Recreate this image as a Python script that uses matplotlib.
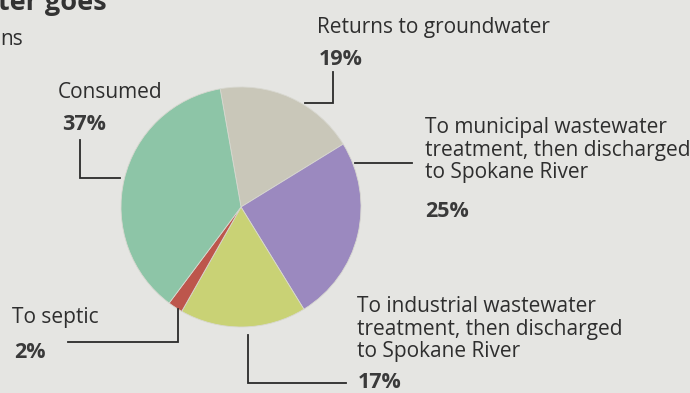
import matplotlib

matplotlib.use("Agg")

import matplotlib.pyplot as plt

W, H = 690, 393

# Data (clockwise from the top)
labels = ["Returns to groundwater",
          "To municipal wastewater\ntreatment, then discharged\nto Spokane River",
          "To industrial wastewater\ntreatment, then discharged\nto Spokane River",
          "To septic",
          "Consumed"]
shares = [19, 25, 17, 2, 37]
pct_labels = ["19%", "25%", "17%", "2%", "37%"]
slice_colors = ["#c9c7b9", "#9b89bf", "#c9d275", "#bd564c", "#8dc5a7"]

BG = "#e5e5e2"
TEXT = "#2e2e2e"
BOLD = "#3a3a3a"
LINE = "#2a2a2a"
FONT = "Open Sans"


def Y(y):
    return H - y


def label(ax, x, y, s, bold=False, size=15):
    # y is the baseline of the last line, in pixels from the top
    ax.text(x, Y(y), s, ha="left", va="baseline", fontsize=size, family=FONT,
            color=BOLD if bold else TEXT, fontweight="bold" if bold else "normal",
            linespacing=1.08)


def leader(ax, pts):
    xs = [p[0] for p in pts]
    ys = [Y(p[1]) for p in pts]
    ax.plot(xs, ys, color=LINE, lw=1.3, solid_joinstyle="miter")


fig = plt.figure(figsize=(W / 100, H / 100), dpi=100, facecolor=BG)
ax = fig.add_axes([0, 0, 1, 1])
ax.set_facecolor(BG)

ax.pie(shares, colors=slice_colors, startangle=100, counterclock=False,
       center=(241, Y(207)), radius=120,
       wedgeprops=dict(edgecolor="#d8d8d0", linewidth=0.6))

ax.set_xlim(0, W)
ax.set_ylim(0, H)
ax.set_aspect("equal")
ax.axis("off")

# headline and subtitle, cut at the edge as in the clipping
ax.text(107, Y(10), "Where the water goes", ha="right", va="baseline", fontsize=19.5,
        family=FONT, fontweight="bold", color="#333333")
ax.text(0, Y(45), "ns", ha="left", va="baseline", fontsize=15, family=FONT, color=TEXT)

# Returns to groundwater
label(ax, 317, 33, labels[0])
label(ax, 319, 65, pct_labels[0], bold=True, size=15.5)
leader(ax, [(333, 72), (333, 103), (305, 103)])

# Municipal
label(ax, 425, 178, labels[1])
label(ax, 425, 217, pct_labels[1], bold=True, size=15.5)
leader(ax, [(355, 163), (412, 163)])

# Industrial
label(ax, 357, 357, labels[2])
label(ax, 358, 388, pct_labels[2], bold=True, size=15.5)
leader(ax, [(248, 335), (248, 383), (346, 383)])

# Septic
label(ax, 12, 323, labels[3])
label(ax, 14, 358, pct_labels[3], bold=True, size=15.5)
leader(ax, [(68, 342), (178, 342), (178, 309)])

# Consumed
label(ax, 58, 98, labels[4])
label(ax, 62, 130, pct_labels[4], bold=True, size=15.5)
leader(ax, [(80, 140), (80, 178), (120, 178)])

fig.savefig("out.png", dpi=100, facecolor=BG)
